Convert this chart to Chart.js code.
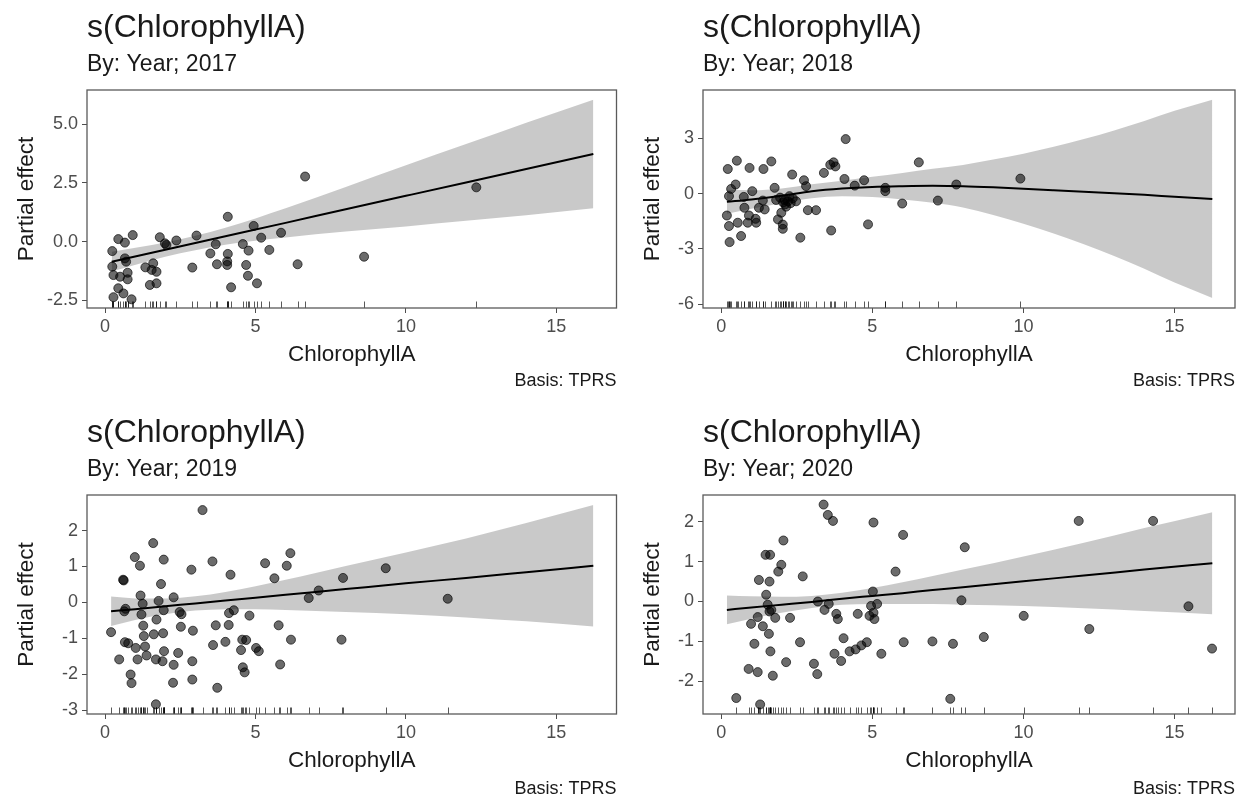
<!DOCTYPE html>
<html><head><meta charset="utf-8">
<script src="https://cdn.jsdelivr.net/npm/chart.js@4"></script>
<style>
body{margin:0;background:#fff;width:1245px;height:804px;position:relative;overflow:hidden}
canvas{position:absolute}
</style>
</head><body>
<canvas id="c2017" width="622" height="402" style="left:0;top:0"></canvas>
<canvas id="c2018" width="623" height="402" style="left:622px;top:0"></canvas>
<canvas id="c2019" width="622" height="402" style="left:0;top:402px"></canvas>
<canvas id="c2020" width="623" height="402" style="left:622px;top:402px"></canvas>
<script>
// ---- shared axis ----
const xTickValues = [0, 5, 10, 15];
const xMin = -0.6, xMax = 17.0;
const titleText = 's(ChlorophyllA)';
const xTitle = 'ChlorophyllA';
const yTitle = 'Partial effect';
const captionText = 'Basis: TPRS';

// ---- 2017 ----
const pts2017X = [0.24,0.44,0.66,0.92,0.24,0.66,0.70,0.28,0.50,0.75,0.75,0.44,0.28,0.61,0.88,1.34,1.55,1.60,1.71,1.49,1.71,1.82,1.99,2.04,2.37,2.90,3.04,3.50,3.68,3.72,4.08,4.08,4.06,4.06,4.19,4.58,4.69,4.77,4.75,4.94,5.05,5.19,5.46,5.85,6.40,6.65,8.61,12.34];
const pts2017Y = [-0.40,0.11,-0.04,0.28,-1.06,-0.71,-0.85,-1.42,-1.49,-1.32,-1.60,-1.98,-2.36,-2.20,-2.45,-1.09,-1.20,-0.92,-1.28,-1.84,-1.77,0.19,-0.07,-0.14,0.05,-1.10,0.26,-0.50,-0.11,-0.96,1.06,-0.52,-0.84,-0.99,-1.94,-0.10,-0.99,-0.38,-1.45,0.67,-1.77,0.17,-0.35,0.38,-0.96,2.77,-0.64,2.31];
const smooth2017X = [0.22,2,4,6,8,10,12,14,16.23];
const fit2017 = [-0.85,-0.34,0.23,0.80,1.38,1.95,2.52,3.09,3.73];
const upper2017 = [-0.43,-0.04,0.59,1.42,2.33,3.25,4.15,5.06,6.04];
const lower2017 = [-1.27,-0.64,-0.13,0.18,0.43,0.65,0.89,1.12,1.42];
const yTicks2017 = [-2.5, 0, 2.5, 5];
const yLabels2017 = ['-2.5', '0.0', '2.5', '5.0'];
const yRange2017 = [-2.82, 6.45];

// ---- 2018 ----
const pts2018X = [0.22,0.52,0.33,0.26,0.48,0.19,0.26,0.28,0.55,0.66,0.75,0.77,0.94,0.92,0.88,1.03,1.14,1.16,1.25,1.40,1.38,1.44,1.66,1.77,1.82,1.88,2.04,2.04,1.99,2.10,2.15,2.21,2.26,2.35,2.37,2.48,2.62,2.74,2.81,2.87,3.14,3.40,3.61,3.72,3.78,3.64,4.08,4.12,4.42,4.73,4.86,5.43,5.43,5.99,6.54,7.17,7.78,9.90,2.05,2.12,2.30,1.95];
const pts2018Y = [1.33,1.78,0.25,-0.14,0.49,-1.19,-1.76,-2.63,-1.58,-2.30,-0.18,-0.77,1.39,-1.19,-1.58,0.13,-1.37,-1.58,-0.77,1.33,-0.38,-0.86,1.74,0.31,-0.35,-1.40,-1.68,-1.91,-1.04,-0.35,-0.71,-0.42,-0.14,1.03,-0.26,-0.42,-2.39,0.72,0.40,-0.90,-0.90,1.12,1.56,1.69,1.47,-2.00,0.79,2.95,0.43,0.72,-1.67,0.31,0.13,-0.54,1.69,-0.38,0.49,0.81,-0.48,-0.58,-0.52,-0.22];
const smooth2018X = [0.19,1,2,3,4,5,6,7,8,9,10,11,12,13,14,15,16.25];
const fit2018 = [-0.45,-0.32,-0.12,0.12,0.27,0.36,0.40,0.42,0.40,0.34,0.26,0.18,0.10,0.02,-0.07,-0.17,-0.29];
const upper2018 = [0.20,0.18,0.28,0.50,0.69,0.91,1.12,1.34,1.55,1.84,2.16,2.53,2.95,3.42,3.93,4.48,5.08];
const lower2018 = [-1.10,-0.82,-0.52,-0.26,-0.15,-0.19,-0.32,-0.50,-0.75,-1.16,-1.64,-2.17,-2.75,-3.38,-4.07,-4.82,-5.66];
const yTicks2018 = [-6, -3, 0, 3];
const yLabels2018 = ['-6', '-3', '0', '3'];
const yRange2018 = [-6.2, 5.61];

// ---- 2019 ----
const pts2019X = [0.20,0.47,0.60,0.62,0.64,0.68,0.66,0.77,0.85,0.88,0.99,1.02,1.08,1.16,1.18,1.25,1.21,1.27,1.29,1.33,1.38,1.60,1.62,1.71,1.69,1.78,1.86,1.91,1.93,1.95,1.95,1.96,1.69,2.26,2.28,2.28,2.43,2.48,2.54,2.52,2.87,2.90,2.92,2.90,3.24,3.57,3.59,3.68,3.73,4.00,4.11,4.12,4.17,4.28,4.52,4.56,4.69,4.58,4.64,4.80,5.02,5.11,5.32,5.63,5.77,5.82,6.04,6.16,6.18,6.77,7.10,7.91,7.86,9.33,11.39];
const pts2019Y = [-0.83,-1.59,0.63,0.61,-0.25,-0.18,-1.11,-1.14,-2.01,-2.25,1.26,-1.27,-1.59,1.02,0.19,-0.04,-0.34,-0.65,-0.94,-1.23,-1.48,1.65,-0.89,-0.48,-1.59,0.04,0.51,-1.64,-0.86,1.19,-0.22,-1.36,-2.84,-2.24,-1.74,0.14,-1.41,-0.27,-0.33,-0.68,0.91,-1.64,-0.79,-2.15,2.57,1.14,-1.19,-0.64,-2.38,-1.10,-0.63,-0.30,0.77,-0.22,-1.33,-1.04,-1.05,-1.81,-1.95,-0.37,-1.27,-1.36,1.09,0.67,-0.64,-1.73,1.02,1.37,-1.04,0.12,0.33,0.68,-1.04,0.95,0.10];
const smooth2019X = [0.2,1,2,3,4,5,6,7,8,10,12,14,16.23];
const fit2019 = [-0.25,-0.19,-0.11,-0.03,0.05,0.13,0.21,0.29,0.37,0.53,0.68,0.84,1.02];
const upper2019 = [0.16,0.11,0.11,0.17,0.29,0.45,0.63,0.82,1.01,1.39,1.78,2.21,2.71];
const lower2019 = [-0.66,-0.49,-0.33,-0.23,-0.19,-0.19,-0.21,-0.24,-0.27,-0.33,-0.42,-0.53,-0.67];
const yTicks2019 = [-3, -2, -1, 0, 1, 2];
const yLabels2019 = ['-3', '-2', '-1', '0', '1', '2'];
const yRange2019 = [-3.11, 2.99];

// ---- 2020 ----
const pts2020X = [0.50,0.91,0.99,1.10,1.21,1.25,1.29,1.21,1.38,1.47,1.62,1.49,1.54,1.58,1.60,1.63,1.60,1.66,1.71,1.79,1.89,1.99,2.06,2.15,2.28,2.61,2.70,3.07,3.18,3.20,3.42,3.56,3.39,3.53,3.70,3.75,3.81,3.86,3.97,4.05,4.25,4.45,4.52,4.64,4.82,4.91,4.96,5.02,5.04,5.07,5.16,5.04,5.30,5.77,6.02,6.04,6.99,7.67,7.58,7.95,8.06,8.69,10.01,11.83,12.18,14.29,15.46,16.24];
const pts2020Y = [-2.42,-1.69,-0.56,-1.06,-1.77,0.54,-2.58,-0.39,-0.62,1.17,1.17,0.17,-0.08,-0.81,0.50,-1.25,-0.25,-0.21,-1.86,-0.41,0.75,0.92,1.53,-1.52,-0.41,-1.02,0.63,-1.56,-1.82,0.00,-0.21,-0.06,2.43,2.17,2.02,-1.31,-0.31,-0.44,-1.49,-0.92,-1.25,-1.20,-0.31,-1.10,-1.02,-0.36,-0.11,0.25,-0.28,-0.44,-0.06,1.98,-1.31,0.75,1.67,-1.02,-1.00,-1.06,-2.44,0.03,1.36,-0.89,-0.36,2.02,-0.69,2.02,-0.12,-1.18];
const smooth2020X = [0.19,1,2,3,4,5,6,7,8,10,12,14,16.25];
const fit2020 = [-0.21,-0.15,-0.08,-0.01,0.07,0.14,0.21,0.29,0.36,0.51,0.65,0.80,0.96];
const upper2020 = [0.15,0.13,0.12,0.14,0.22,0.34,0.48,0.64,0.80,1.13,1.47,1.84,2.24];
const lower2020 = [-0.57,-0.43,-0.28,-0.16,-0.08,-0.06,-0.06,-0.06,-0.08,-0.11,-0.17,-0.24,-0.32];
const yTicks2020 = [-2, -1, 0, 1, 2];
const yLabels2020 = ['-2', '-1', '0', '1', '2'];
const yRange2020 = [-2.82, 2.67];

// ---- rendering ----
const FONT = '"Liberation Sans", Arial, Helvetica, sans-serif';
Chart.defaults.font.family = FONT;

const toXY = (xs, ys) => xs.map((x, i) => ({x: x, y: ys[i]}));

const framePlugin = {
  id: 'panelFrame',
  afterDatasetsDraw(chart) {
    const {ctx, chartArea: a, scales} = chart;
    // rug marks from the residual x values
    const pts = chart.data.datasets[0].data;
    ctx.save();
    ctx.strokeStyle = 'rgba(0,0,0,0.65)';
    ctx.lineWidth = 1;
    ctx.beginPath();
    pts.forEach(p => {
      const px = Math.round(scales.x.getPixelForValue(p.x)) + 0.5;
      ctx.moveTo(px, a.bottom);
      ctx.lineTo(px, a.bottom - 6.5);
    });
    ctx.stroke();
    // panel border
    ctx.strokeStyle = '#5a5a5a';
    ctx.lineWidth = 1.3;
    ctx.strokeRect(a.left, a.top, a.right - a.left, a.bottom - a.top);
    ctx.restore();
  },
  afterDraw(chart, args, opts) {
    const {ctx, chartArea: a} = chart;
    ctx.save();
    ctx.fillStyle = '#1a1a1a';
    ctx.font = '18px ' + FONT;
    ctx.textAlign = 'right';
    ctx.textBaseline = 'middle';
    ctx.fillText(opts.text, a.right, a.bottom + opts.offset);
    ctx.restore();
  }
};

function makePanel(id, year, xs, ys, sx, fit, up, lo, yTicks, yLabels, yRange, lay) {
  new Chart(document.getElementById(id), {
    type: 'line',
    data: {
      datasets: [
        {label: 'residuals', data: toXY(xs, ys), showLine: false,
         pointRadius: 4.5, pointBackgroundColor: 'rgba(0,0,0,0.58)',
         pointBorderColor: 'rgba(0,0,0,0.65)', pointBorderWidth: 1},
        {label: 'estimate', data: toXY(sx, fit), borderColor: '#000', borderWidth: 2,
         pointRadius: 0, fill: false, cubicInterpolationMode: 'monotone'},
        {label: 'upper', data: toXY(sx, up), borderColor: 'rgba(0,0,0,0)', borderWidth: 1,
         pointRadius: 0, fill: '+1', backgroundColor: 'rgba(0,0,0,0.21)', cubicInterpolationMode: 'monotone'},
        {label: 'lower', data: toXY(sx, lo), borderColor: 'rgba(0,0,0,0)', borderWidth: 1,
         pointRadius: 0, fill: false, cubicInterpolationMode: 'monotone'}
      ]
    },
    options: {
      responsive: false, animation: false, devicePixelRatio: 1, events: [],
      layout: {padding: {top: lay.top, left: 0, right: lay.right, bottom: lay.bottom}},
      plugins: {
        legend: {display: false}, tooltip: {enabled: false},
        title: {display: true, text: titleText, align: 'start', fullSize: false, color: '#1a1a1a',
                font: {size: 32, weight: 'normal'}, padding: {top: 9.1, bottom: 0}},
        subtitle: {display: true, text: 'By: Year; ' + year, align: 'start', fullSize: false, color: '#1a1a1a',
                font: {size: 23, weight: 'normal'}, padding: {top: 3.7, bottom: 11.2}},
        panelFrame: {text: captionText, offset: lay.cap}
      },
      scales: {
        x: {
          type: 'linear', min: xMin, max: xMax,
          afterBuildTicks: s => { s.ticks = xTickValues.map(v => ({value: v})); },
          afterFit: s => { s.height = 60; },
          ticks: {color: '#4d4d4d', font: {size: 18}, padding: 3, autoSkip: false, maxRotation: 0,
                  callback: v => String(v)},
          grid: {drawOnChartArea: false, drawTicks: true, tickLength: 5, color: '#4d4d4d', lineWidth: 1},
          border: {display: false},
          title: {display: true, text: xTitle, color: '#1a1a1a', font: {size: 22.5}, padding: {top: 0, bottom: 0}}
        },
        y: {
          type: 'linear', min: yRange[0], max: yRange[1],
          afterBuildTicks: s => { s.ticks = yTicks.map(v => ({value: v})); },
          afterFit: s => { s.width = lay.left; },
          ticks: {color: '#4d4d4d', font: {size: 18}, padding: 4, autoSkip: false,
                  callback: v => yLabels[yTicks.indexOf(v)]},
          grid: {drawOnChartArea: false, drawTicks: true, tickLength: 5, color: '#4d4d4d', lineWidth: 1},
          border: {display: false},
          title: {display: true, text: yTitle, color: '#1a1a1a', font: {size: 22.5}, padding: {top: lay.ytp, bottom: 0}}
        }
      }
    },
    plugins: [framePlugin]
  });
}

makePanel('c2017', 2017, pts2017X, pts2017Y, smooth2017X, fit2017, upper2017, lower2017, yTicks2017, yLabels2017, yRange2017,
  {top: 0, left: 87, right: 5, bottom: 34, cap: 73, ytp: 13});
makePanel('c2018', 2018, pts2018X, pts2018Y, smooth2018X, fit2018, upper2018, lower2018, yTicks2018, yLabels2018, yRange2018,
  {top: 0, left: 81, right: 10, bottom: 34, cap: 73, ytp: 17});
makePanel('c2019', 2019, pts2019X, pts2019Y, smooth2019X, fit2019, upper2019, lower2019, yTicks2019, yLabels2019, yRange2019,
  {top: 3, left: 87, right: 5, bottom: 30, cap: 75, ytp: 13});
makePanel('c2020', 2020, pts2020X, pts2020Y, smooth2020X, fit2020, upper2020, lower2020, yTicks2020, yLabels2020, yRange2020,
  {top: 3, left: 81, right: 10, bottom: 30, cap: 75, ytp: 17});
</script>
</body></html>
